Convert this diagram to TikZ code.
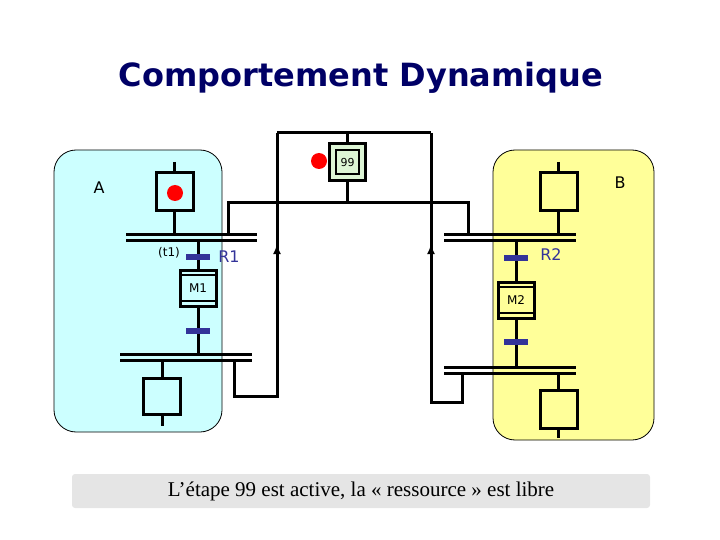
\documentclass[tikz,border=0pt]{standalone}
\usepackage{fontspec}
\setmainfont{DejaVu Sans}
\newfontfamily\serifcap{Liberation Serif}
\usetikzlibrary{arrows.meta}
\definecolor{navy}{HTML}{000066}
\definecolor{rcol}{HTML}{333399}
\definecolor{cyanbg}{HTML}{CCFFFF}
\definecolor{yelbg}{HTML}{FFFF99}
\definecolor{stepgreen}{HTML}{DDF5D5}
\tikzset{
 ln/.style={line width=3pt,black},
 stepbox/.style={draw=black,line width=3pt,minimum width=37pt,minimum height=38pt,inner sep=0pt},
 rec/.style={line width=6pt,rcol},
 lab/.style={font=\fontsize{16}{16}\selectfont},
 up/.style={-{Latex[length=10pt,width=8pt]},line width=3pt}
}
\begin{document}
\begin{tikzpicture}[x=1pt,y=-1pt]
\useasboundingbox (0,0) rectangle (720,540);
\node[font=\bfseries\fontsize{32}{32}\selectfont,text=navy] (title) at (361,78) {Comportement Dynamique};
% panels
\draw[fill=cyanbg,rounded corners=22pt,line width=0.8pt] (54,150) rectangle (222,432);
\draw[fill=yelbg,rounded corners=22pt,line width=0.8pt] (493,150) rectangle (654,440);
\node[lab] (A) at (99,188) {A};
\node[lab] (B) at (620,183) {B};
% ---- A ----
\node[stepbox] (sA1) at (174.5,192) {};
\draw[ln] (174.5,162) -- (sA1.north);
\fill[red] (175,193) circle (8);
\draw[ln] (sA1.south) -- (174.5,234);
\draw[ln] (126,234) -- (257,234) (126,240) -- (257,240);
\node[draw,line width=3pt,minimum width=36pt,minimum height=36pt,inner sep=0pt] (M1) at (198,288) {};
\draw[line width=2pt] (180,275) -- (216,275) (180,301) -- (216,301);
\node[font=\fontsize{12}{12}\selectfont] at (198,288) {M1};
\draw[ln] (198,240) -- (M1.north) (M1.south) -- (198,354);
\draw[rec] (186,257) -- (210,257);
\draw[rec] (186,331) -- (210,331);
\node[font=\fontsize{12}{12}\selectfont] (t1) at (169,253) {(t1)};
\node[lab,text=rcol] (R1) at (229,257) {R1};
\draw[ln] (120,354) -- (252,354) (120,360) -- (252,360);
\node[stepbox,minimum height=36pt] (sA2) at (162,396) {};
\draw[ln] (162,360) -- (sA2.north) (sA2.south) -- (162,426);
% ---- B ----
\node[stepbox] (sB1) at (558.5,192) {};
\draw[ln] (558.5,162) -- (sB1.north);
\draw[ln] (sB1.south) -- (558.5,234);
\draw[ln] (444,234) -- (576,234) (444,240) -- (576,240);
\node[draw,line width=3pt,minimum width=36pt,minimum height=36pt,inner sep=0pt] (M2) at (516,300) {};
\draw[line width=2pt] (498,287) -- (534,287) (498,313) -- (534,313);
\node[font=\fontsize{12}{12}\selectfont] at (516,300) {M2};
\draw[ln] (516,240) -- (M2.north) (M2.south) -- (516,367);
\draw[rec] (504,258) -- (528,258);
\draw[rec] (504,342) -- (528,342);
\node[lab,text=rcol] (R2) at (551,255) {R2};
\draw[ln] (444,367) -- (576,367) (444,373) -- (576,373);
\node[stepbox] (sB2) at (558.5,409) {};
\draw[ln] (558.5,373) -- (sB2.north) (sB2.south) -- (558.5,438);
% ---- step 99 ----
\node[draw,line width=3pt,fill=stepgreen,minimum width=36pt,minimum height=37pt,inner sep=0pt] (s99) at (347.5,162) {};
\node[draw,line width=2pt,fill=stepgreen,minimum width=23pt,minimum height=24pt,inner sep=0pt,font=\fontsize{11}{11}\selectfont] (s99i) at (347.5,162) {99};
\fill[red] (319,161) circle (8);
\draw[ln] (277,133) -- (431,133);
\draw[ln] (347.5,133) -- (s99.north);
\draw[ln] (s99.south) -- (347.5,203);
\draw[ln] (228,234) -- (228,203) -- (468,203) -- (468,234);
% return lines
\draw[ln] (234,360) -- (234,396) -- (277,396) -- (277,133);
\draw[ln] (462,373) -- (462,402) -- (431,402) -- (431,133);
\draw[up] (277,264) -- (277,244);
\draw[up] (431,264) -- (431,244);
% caption
\node[fill=black!10,rounded corners=3pt,minimum width=578pt,minimum height=34pt,font=\serifcap\fontsize{21}{21}\selectfont] (cap) at (361,491) {L’étape 99 est active, la « ressource » est libre};
\end{tikzpicture}
\end{document}
